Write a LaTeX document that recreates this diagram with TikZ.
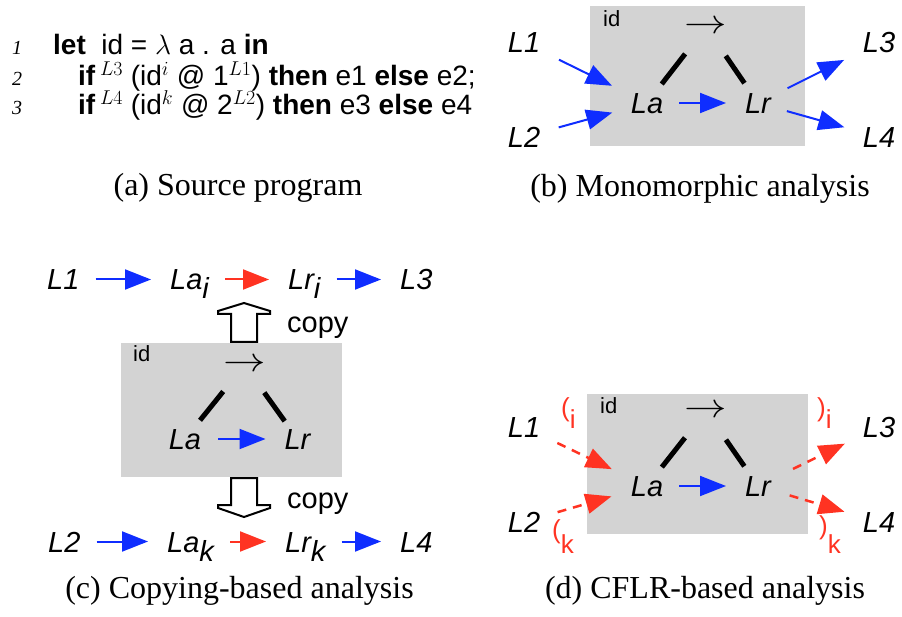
\RequirePackage{fix-cm}
\documentclass[tikz,border=0pt]{standalone}
\usepackage{fontspec}
\setmainfont{Liberation Serif}
\newfontfamily\helv{Liberation Sans}
\usepackage{xcolor}
\usetikzlibrary{arrows.meta}
\DeclareMathSizes{28}{28}{20}{14}
\definecolor{boxgray}{RGB}{211,211,211}
\definecolor{flowblue}{RGB}{15,45,255}
\definecolor{callred}{RGB}{255,51,34}
\newcommand{\lowsub}[2][9pt]{\raisebox{-#1}{#2}}
\newcommand{\funarrow}{\scalebox{1.25}[1]{$\rightarrow$}}

\begin{document}
\begin{tikzpicture}[x=1pt, y=-1pt,
      lbl/.style={font=\helv\itshape\fontsize{29}{29}\selectfont, inner sep=0pt, text height=21pt, text depth=0pt},
      code/.style={font=\helv\fontsize{28}{28}\selectfont, inner sep=0pt, anchor=base west},
      lineno/.style={font=\itshape\fontsize{20}{20}\selectfont, inner sep=0pt, anchor=base west},
      caption/.style={font=\fontsize{32}{32}\selectfont, inner sep=0pt, anchor=base},
      idbox/.style={fill=boxgray, inner sep=0pt},
      idlbl/.style={font=\helv\fontsize{22}{22}\selectfont, inner sep=0pt, anchor=base west},
      fun/.style={font=\fontsize{34}{34}\selectfont, inner sep=0pt},
      copylbl/.style={font=\helv\fontsize{29}{29}\selectfont, inner sep=0pt, anchor=base west},
      paren/.style={text=callred, font=\helv\fontsize{26}{26}\selectfont, inner sep=0pt, anchor=base west},
      tree/.style={line width=5pt, shorten <=34pt, shorten >=24pt},
      flow/.style={draw=flowblue, line width=2pt, -{Triangle[length=26pt,width=20pt,fill=flowblue]}},
      call/.style={draw=callred, line width=2pt, -{Triangle[length=26pt,width=20pt,fill=callred]}},
      callflow/.style={draw=callred, line width=2.5pt, dash pattern=on 9pt off 7pt, -{Triangle[length=26pt,width=20pt,fill=callred]}},
      rowgap/.style={shorten <=16pt, shorten >=19pt},
      copyarrow/.style={draw, line width=2pt, fill=white}]
      \useasboundingbox (0,0) rectangle (902,617);

      % (a) source program
      \node[lineno](n1) at (12,55){1};
      \node[code](l1) at (53,55){\textbf{let}\ \ id = $\lambda$ a . a \textbf{in}};
      \node[lineno](n2) at (12,86){2};
      \node[code](l2) at (78,86){\textbf{if}\,$^{L3}$ (id$^{i}$ @ 1$^{L1}$) \textbf{then} e1 \textbf{else} e2;};
      \node[lineno](n3) at (12,115){3};
      \node[code](l3) at (78,115){\textbf{if}\,$^{L4}$ (id$^{k}$ @ 2$^{L2}$) \textbf{then} e3 \textbf{else} e4};
      \node[caption](capa) at (238,196){(a) Source program};

      % (b) monomorphic
      \node[idbox, minimum width=215pt, minimum height=140pt](bbox) at (697.5,76){};
      \node[idlbl](bid) at (603,27){id};
      \node[fun](barr) at (706,27){\funarrow};
      \node[lbl](bLa) at (647,103){La};
      \node[lbl](bLr) at (758,103){Lr};
      \node[lbl](bL1) at (524,42.5){L1};
      \node[lbl](bL2) at (524,137){L2};
      \node[lbl](bL3) at (879,42.5){L3};
      \node[lbl](bL4) at (879,137){L4};
      \draw[tree] (barr.center) -- (bLa.center);
      \draw[tree, shorten <=35pt] (barr.center) -- (bLr.center);
      \draw[flow, shorten <=32pt, shorten >=32pt] (bLa.center) -- (bLr.center);
      \draw[flow, shorten <=39pt, shorten >=39pt] (bL1.center) -- (bLa.center);
      \draw[flow, shorten <=36pt, shorten >=36pt] (bL2.center) -- (bLa.center);
      \draw[flow, shorten <=33pt, shorten >=39pt] (bLr.center) -- (bL3.center);
      \draw[flow, shorten <=30pt, shorten >=36pt] (bLr.center) -- (bL4.center);
      \node[caption](capb) at (700,197){(b) Monomorphic analysis};

      % (c) copying
      \node[idbox, minimum width=221pt, minimum height=134pt](cbox) at (231.5,410){};
      \node[idlbl](cid) at (133,362){id};
      \node[fun](carr) at (244.5,365){\funarrow};
      \node[lbl](cLa) at (185,439){La};
      \node[lbl](cLr) at (297.5,439){Lr};
      \draw[tree] (carr.center) -- (cLa.center);
      \draw[tree, shorten >=22pt] (carr.center) -- (cLr.center);
      \draw[flow, shorten <=33pt, shorten >=32pt] (cLa.center) -- (cLr.center);
      \node[lbl, anchor=west](cL1) at (47,279.5){L1};
      \node[lbl, anchor=west](cLai) at (170,279.5){La\lowsub{i}};
      \node[lbl, anchor=west](cLri) at (288,279.5){Lr\lowsub{i}};
      \node[lbl, anchor=west](cL3) at (400,279.5){L3};
      \node[lbl, anchor=west](cL2) at (48,541.5){L2};
      \node[lbl, anchor=west](cLak) at (167,541.5){La\lowsub{k}};
      \node[lbl, anchor=west](cLrk) at (285,541.5){Lr\lowsub{k}};
      \node[lbl, anchor=west](cL4) at (400,541.5){L4};
      \draw[flow, rowgap] (cL1.east) -- (cLai.west);
      \draw[call, rowgap] (cLai.east) -- (cLri.west);
      \draw[flow, rowgap] (cLri.east) -- (cL3.west);
      \draw[flow, rowgap] (cL2.east) -- (cLak.west);
      \draw[call, rowgap] (cLak.east) -- (cLrk.west);
      \draw[flow, rowgap] (cLrk.east) -- (cL4.west);
      \draw[copyarrow] (231,342) -- (231,314) -- (218,314) -- (218,311) -- (244,303) -- (270,311) -- (270,314) -- (257,314) -- (257,342) -- cycle;
      \node[copylbl](copyup) at (287,333){copy};
      \draw[copyarrow] (231,478) -- (231,505) -- (218,505) -- (218,508) -- (244,517) -- (270,508) -- (270,505) -- (257,505) -- (257,478) -- cycle;
      \node[copylbl](copydown) at (287,508){copy};
      \node[caption](capc) at (239.5,598){(c) Copying-based analysis};

      % (d) CFLR
      \node[idbox, minimum width=221pt, minimum height=140pt](dbox) at (697.5,464){};
      \node[idlbl](did) at (600,413){id};
      \node[fun](darr) at (706,411){\funarrow};
      \node[lbl](dLa) at (647,486){La};
      \node[lbl](dLr) at (758,486){Lr};
      \node[lbl](dL1) at (524,427){L1};
      \node[lbl](dL2) at (524,522){L2};
      \node[lbl](dL3) at (879,427){L3};
      \node[lbl](dL4) at (879,522){L4};
      \draw[tree] (darr.center) -- (dLa.center);
      \draw[tree, shorten <=35pt] (darr.center) -- (dLr.center);
      \draw[flow, shorten <=32pt, shorten >=32pt] (dLa.center) -- (dLr.center);
      \draw[callflow, shorten <=37pt, shorten >=39pt] (dL1.center) -- (dLa.center);
      \draw[callflow, shorten <=35pt, shorten >=37pt] (dL2.center) -- (dLa.center);
      \draw[callflow, shorten <=39pt, shorten >=38pt] (dLr.center) -- (dL3.center);
      \draw[callflow, shorten <=33pt, shorten >=36pt] (dLr.center) -- (dL4.center);
      \node[paren](oi) at (561,416){(\lowsub[12pt]{i}};
      \node[paren](ok) at (552,538){(\lowsub[15pt]{k}};
      \node[paren](ci) at (817,416){)\lowsub[12pt]{i}};
      \node[paren](ck) at (819,534){)\lowsub[19pt]{k}};
      \node[caption](capd) at (705,598){(d) CFLR-based analysis};
    \end{tikzpicture}
\end{document}
